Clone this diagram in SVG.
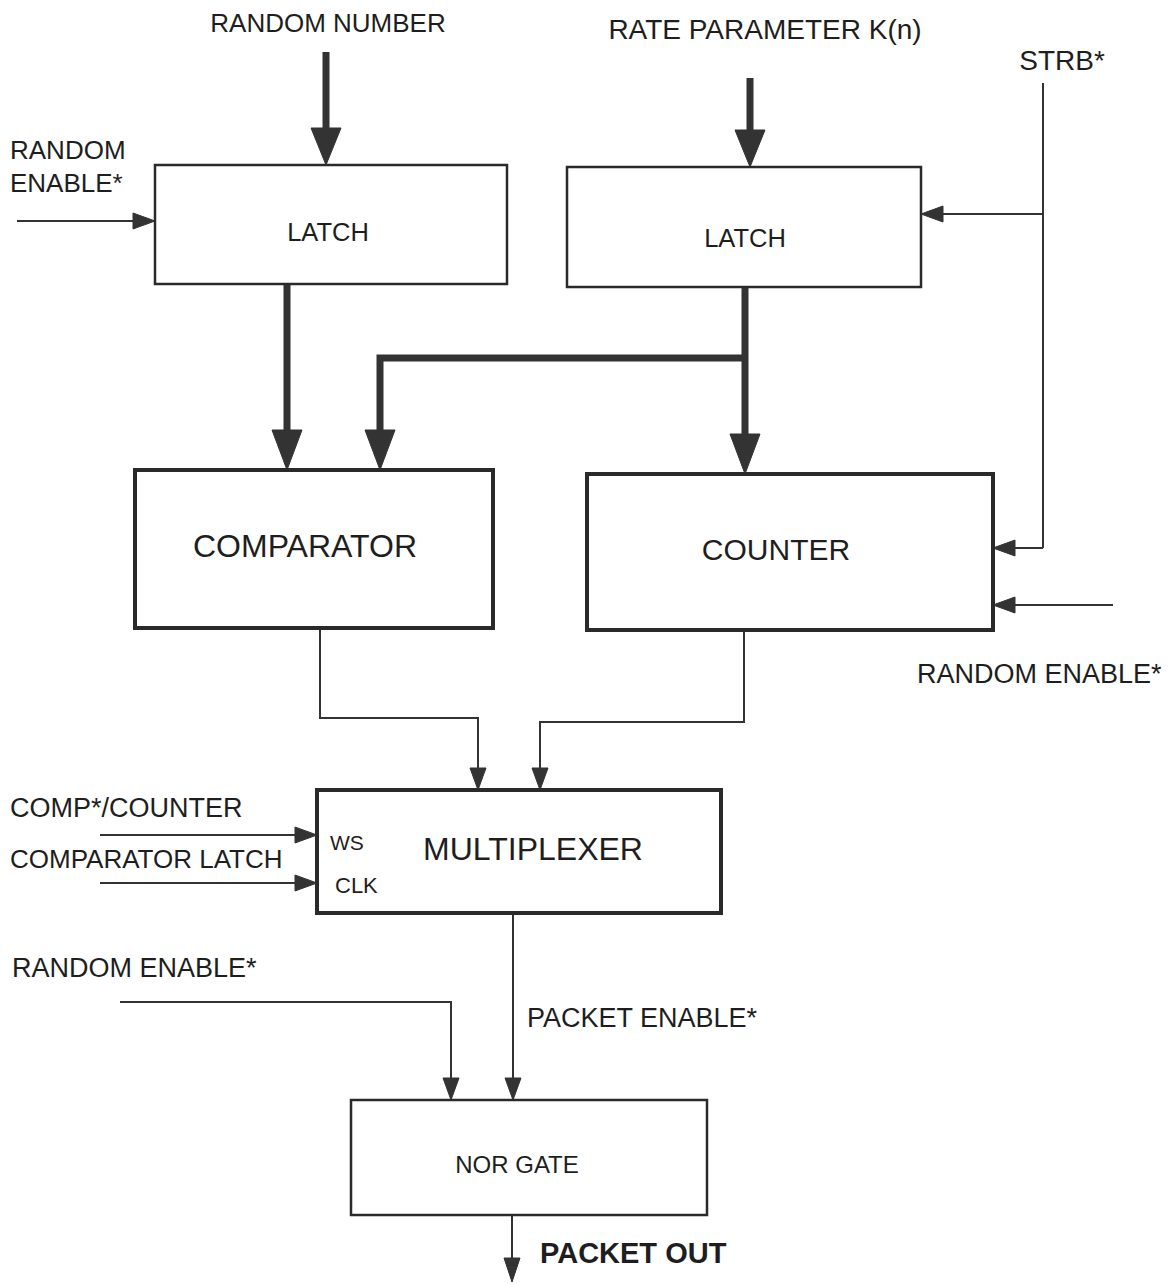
<svg xmlns="http://www.w3.org/2000/svg" width="1176" height="1284" viewBox="0 0 1176 1284">
<style>
text{font-family:"Liberation Sans",Arial,sans-serif;fill:#1e1e1e}
.lbl{font-size:27px}
.box{fill:#fff;stroke:#2a2a2a}
.thin{stroke-width:2.5}
.thick{stroke-width:4}
.w{fill:none;stroke:#333;stroke-width:2}
.bus{fill:none;stroke:#333;stroke-width:7}
.ah{fill:#333;stroke:#333;stroke-width:1}
</style>
<rect width="1176" height="1284" fill="#fff"/>
<g id="connectors">
  <line class="bus" x1="326" y1="52" x2="326" y2="132"/>
  <polygon class="ah" points="311,128 341,128 326,165"/>
  <line class="bus" x1="750" y1="78" x2="750" y2="134"/>
  <polygon class="ah" points="735,130 765,130 750,167"/>
  <line class="bus" x1="287" y1="284" x2="287" y2="434"/>
  <polygon class="ah" points="272,430 302,430 287,470"/>
  <line class="bus" x1="745" y1="287" x2="745" y2="438"/>
  <polygon class="ah" points="730,434 760,434 745,474"/>
  <polyline class="bus" points="745,358 380,358 380,434"/>
  <polygon class="ah" points="365,430 395,430 380,470"/>
  <line class="w" x1="17" y1="221" x2="135" y2="221"/>
  <polygon class="ah" points="133,213 133,229 155,221"/>
  <line class="w" x1="1043" y1="83" x2="1043" y2="548"/>
  <line class="w" x1="1043" y1="214" x2="941" y2="214"/>
  <polygon class="ah" points="943,206 943,222 921,214"/>
  <line class="w" x1="1043" y1="548" x2="1013" y2="548"/>
  <polygon class="ah" points="1015,540 1015,556 993,548"/>
  <line class="w" x1="1113" y1="605" x2="1013" y2="605"/>
  <polygon class="ah" points="1015,597 1015,613 993,605"/>
  <polyline class="w" points="320,628 320,718 478,718 478,770"/>
  <polygon class="ah" points="470,768 486,768 478,790"/>
  <polyline class="w" points="744,630 744,722 540,722 540,770"/>
  <polygon class="ah" points="532,768 548,768 540,790"/>
  <line class="w" x1="100" y1="835" x2="297" y2="835"/>
  <polygon class="ah" points="295,827 295,843 317,835"/>
  <line class="w" x1="100" y1="883" x2="297" y2="883"/>
  <polygon class="ah" points="295,875 295,891 317,883"/>
  <line class="w" x1="513" y1="913" x2="513" y2="1080"/>
  <polygon class="ah" points="505,1078 521,1078 513,1100"/>
  <polyline class="w" points="120,1002 451,1002 451,1080"/>
  <polygon class="ah" points="443,1078 459,1078 451,1100"/>
  <line class="w" x1="512" y1="1215" x2="512" y2="1260"/>
  <polygon class="ah" points="504,1258 520,1258 512,1282"/>
</g>
<g id="labels">
  <text x="328" y="32" font-size="26" text-anchor="middle">RANDOM NUMBER</text>
  <text x="765" y="39" font-size="28" text-anchor="middle">RATE PARAMETER K(n)</text>
  <text x="1062" y="70" font-size="28" text-anchor="middle">STRB*</text>
  <text x="10" y="159" font-size="26">RANDOM</text>
  <text x="10" y="192" font-size="26">ENABLE*</text>
  <text class="lbl" x="917" y="683">RANDOM ENABLE*</text>
  <text class="lbl" x="10" y="817">COMP*/COUNTER</text>
  <text x="10" y="868" font-size="26">COMPARATOR LATCH</text>
  <text class="lbl" x="12" y="977">RANDOM ENABLE*</text>
  <text class="lbl" x="527" y="1027">PACKET ENABLE*</text>
  <text x="540" y="1263" font-size="29" font-weight="bold">PACKET OUT</text>
</g>
<g id="latch1">
  <rect class="box thin" x="155" y="165" width="352" height="119"/>
  <text x="328" y="241" font-size="25.5" text-anchor="middle">LATCH</text>
</g>
<g id="latch2">
  <rect class="box thin" x="567" y="167" width="354" height="120"/>
  <text x="745" y="247" font-size="25.5" text-anchor="middle">LATCH</text>
</g>
<g id="comparator">
  <rect class="box thick" x="135" y="470" width="358" height="158"/>
  <text x="305" y="557" font-size="32" text-anchor="middle">COMPARATOR</text>
</g>
<g id="counter">
  <rect class="box thick" x="587" y="474" width="406" height="156"/>
  <text x="776" y="560" font-size="30" text-anchor="middle">COUNTER</text>
</g>
<g id="multiplexer">
  <rect class="box thick" x="317" y="790" width="404" height="123"/>
  <text x="533" y="860" font-size="32" text-anchor="middle">MULTIPLEXER</text>
  <text x="330" y="850" font-size="21">WS</text>
  <text x="335" y="893" font-size="22">CLK</text>
</g>
<g id="norgate">
  <rect class="box thin" x="351" y="1100" width="356" height="115"/>
  <text x="517" y="1173" font-size="24" text-anchor="middle">NOR GATE</text>
</g>
</svg>
